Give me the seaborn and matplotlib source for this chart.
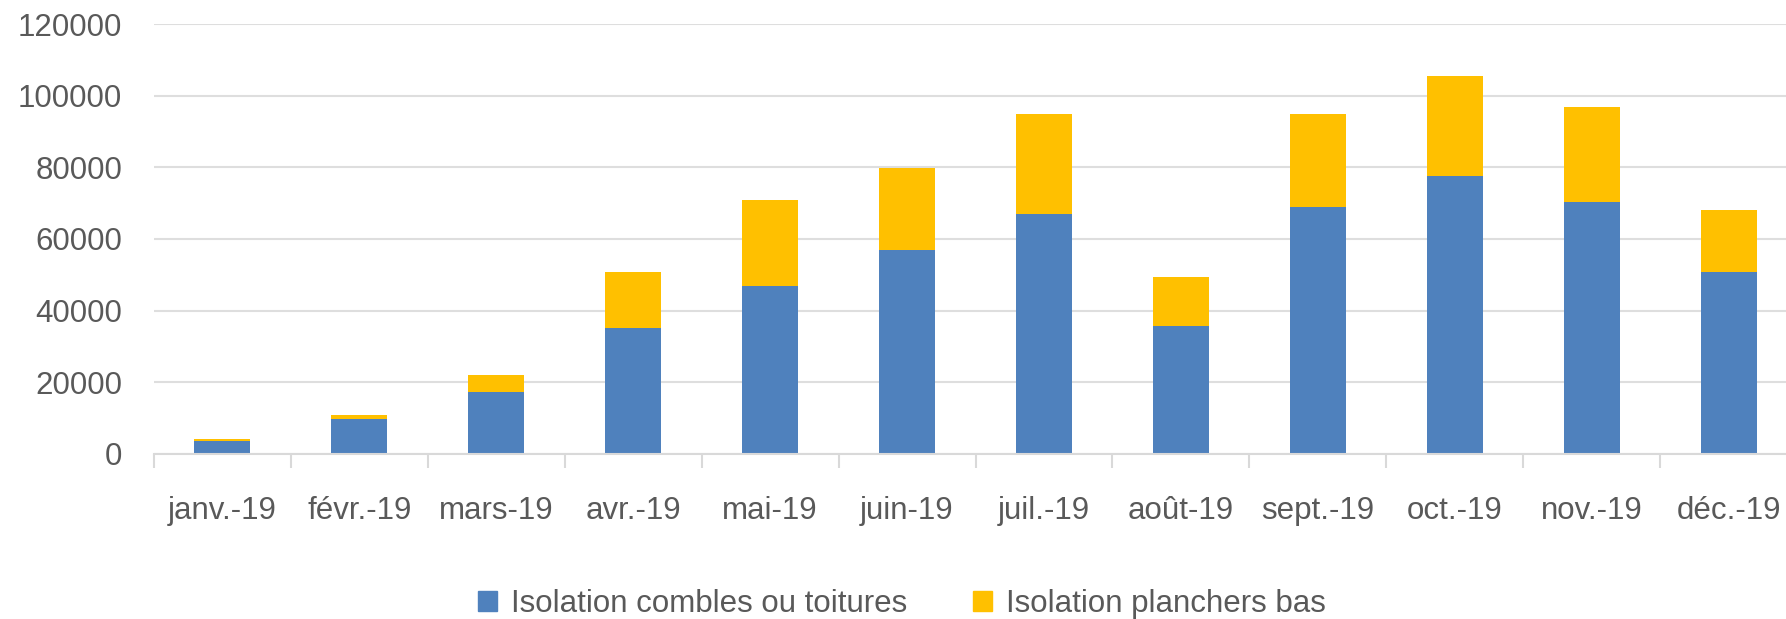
import pandas as pd
import numpy as np
import matplotlib
matplotlib.use('Agg')
import matplotlib.pyplot as plt
import seaborn as sns
from matplotlib.patches import Patch

mois = ['janv.-19', 'févr.-19', 'mars-19', 'avr.-19', 'mai-19', 'juin-19',
        'juil.-19', 'août-19', 'sept.-19', 'oct.-19', 'nov.-19', 'déc.-19']
combles = [3700, 9700, 17300, 35100, 46900, 56900, 67100, 35800, 68800, 77700, 70200, 50900]
planchers = [500, 1300, 4800, 15800, 24000, 22800, 27800, 13700, 26100, 27800, 26700, 17200]

bleu = '#4F81BD'
jaune = '#FFC000'
gris = '#595959'

df = pd.DataFrame({'mois': mois, 'combles': combles, 'planchers': planchers})
df['total'] = df['combles'] + df['planchers']

sns.set_theme(style='white')
plt.rcParams['font.family'] = ['Liberation Sans', 'DejaVu Sans']

fig = plt.figure(figsize=(17.86, 6.19), dpi=100)
ax = fig.add_axes([0.0862, 0.2666, 0.92, 0.6946])

# empilement : total en jaune, puis combles en bleu par-dessus
sns.barplot(data=df, x='mois', y='total', color=jaune, width=0.41,
            saturation=1, ax=ax, linewidth=0)
sns.barplot(data=df, x='mois', y='combles', color=bleu, width=0.41,
            saturation=1, ax=ax, linewidth=0)

ax.set_ylim(0, 120000)
ax.set_xlim(-0.5, 11.5)
ax.set_yticks(np.arange(0, 120001, 20000))
ax.set_xlabel('')
ax.set_ylabel('')

ax.yaxis.grid(True, color='#dedede', linewidth=1.5)
ax.set_axisbelow(True)
for s in ['top', 'right', 'left']:
    ax.spines[s].set_visible(False)
ax.spines['bottom'].set_color('#d9d9d9')
ax.spines['bottom'].set_linewidth(1.5)

ax.set_xticks(np.arange(-0.5, 12, 1), minor=True)
ax.tick_params(axis='x', which='minor', bottom=True, length=10, width=1.5,
               color='#d9d9d9', direction='out')
ax.tick_params(axis='x', which='major', length=0, pad=30, labelsize=22.5, labelcolor=gris)
ax.tick_params(axis='y', length=0, pad=23, labelsize=22.5, labelcolor=gris)

handles = [Patch(color=bleu, label='Isolation combles ou toitures'),
           Patch(color=jaune, label='Isolation planchers bas')]
fig.legend(handles=handles, loc='center', bbox_to_anchor=(0.505, 0.024), ncol=2,
           frameon=False, fontsize=22.5, labelcolor=gris, handlelength=0.6,
           handleheight=0.6, handletextpad=0.45, columnspacing=2.1)

fig.savefig('out.png', dpi=100)
